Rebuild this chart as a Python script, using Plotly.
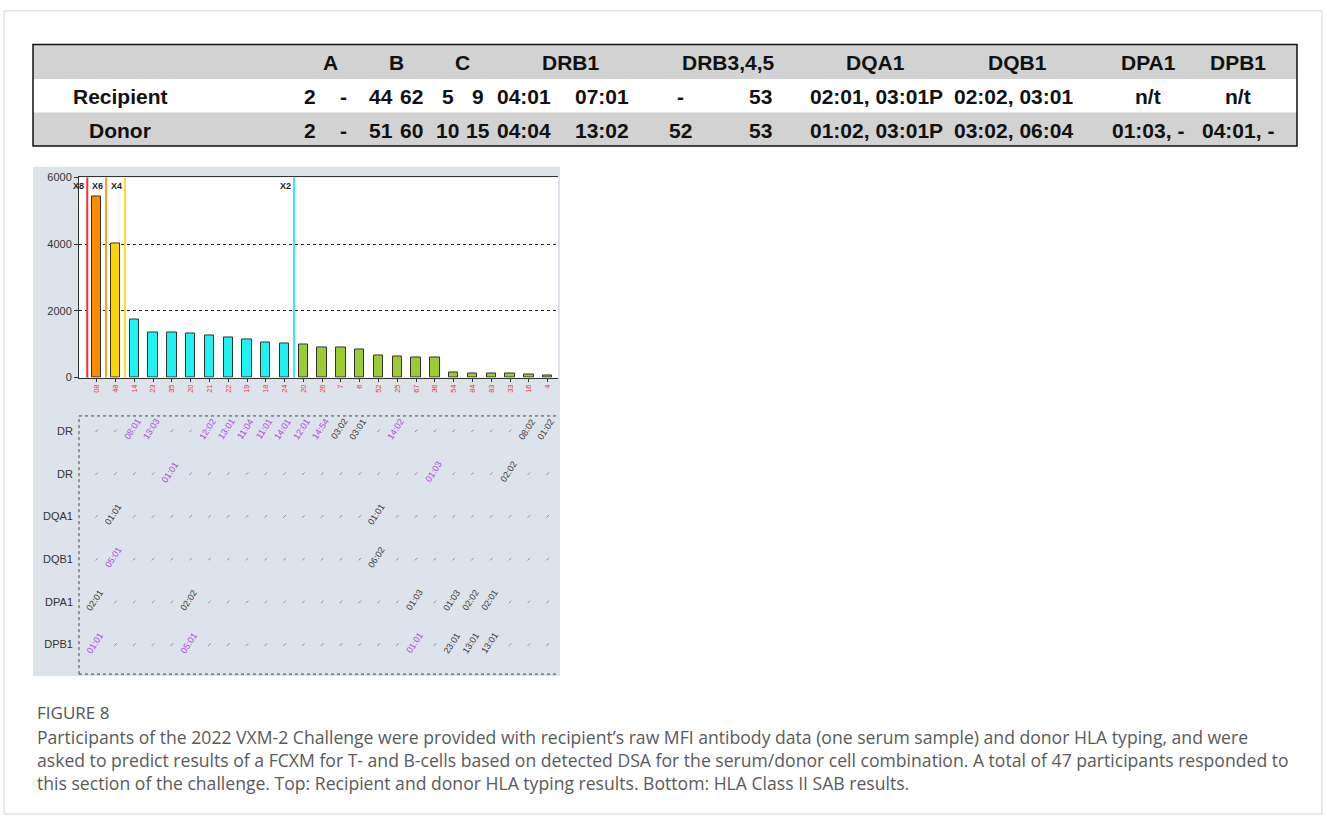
import plotly.graph_objects as go

W, H = 1327, 825
def px(x): return x / W
def py(y): return 1 - y / H

# ---------------- DATA ----------------
table_headers = ["A", "B", "C", "DRB1", "DRB3,4,5", "DQA1", "DQB1", "DPA1", "DPB1"]
row_names = ["Recipient", "Donor"]
recipient_typing = ["2", "-", "44", "62", "5", "9", "04:01", "07:01", "-", "53",
                    "02:01, 03:01P", "02:02, 03:01", "n/t", "n/t"]
donor_typing = ["2", "-", "51", "60", "10", "15", "04:04", "13:02", "52", "53",
                "01:02, 03:01P", "03:02, 06:04", "01:03, -", "04:01, -"]

bead_labels = ["08", "48", "14", "23", "35", "20", "21", "22", "19", "18", "24", "20", "26",
               "7", "6", "52", "25", "67", "36", "54", "84", "83", "33", "16", "4"]
bead_mfi = [5440, 4030, 1730, 1340, 1340, 1310, 1255, 1195, 1145, 1060, 1030,
            1000, 890, 890, 855, 655, 625, 600, 600, 155, 125, 125, 125, 90, 60]
bead_group = ["X6", "X4"] + ["X2"] * 9 + ["neg"] * 14
cutoff_names = ["X8", "X6", "X4", "X2"]
cutoff_after_bead = [-0.5, 0.5, 1.5, 10.5]
mfi_ticks = [0, 2000, 4000, 6000]

grid_rows = ["DR", "DR", "DQA1", "DQB1", "DPA1", "DPB1"]
grid_DR1 = ["", "", "08:01", "13:03", "", "", "12:02", "13:01", "11:04", "11:01", "14:01", "12:01",
            "14:54", "03:02", "03:01", "", "14:02", "", "", "", "", "", "", "08:02", "01:02"]
grid_DR2 = ["", "", "", "", "01:01", "", "", "", "", "", "", "", "", "", "", "", "", "",
            "01:03", "", "", "", "02:02", "", ""]
grid_DQA1 = ["", "01:01", "", "", "", "", "", "", "", "", "", "", "", "", "", "01:01", "",
             "", "", "", "", "", "", "", ""]
grid_DQB1 = ["", "05:01", "", "", "", "", "", "", "", "", "", "", "", "", "", "06:02", "",
             "", "", "", "", "", "", "", ""]
grid_DPA1 = ["02:01", "", "", "", "", "02:02", "", "", "", "", "", "", "", "", "", "", "",
             "01:03", "", "01:03", "02:02", "02:01", "", "", ""]
grid_DPB1 = ["01:01", "", "", "", "", "05:01", "", "", "", "", "", "", "", "", "", "", "",
             "01:01", "", "23:01", "13:01", "13:01", "", "", ""]
# which labels are purple ("p") vs dark ("k")
grid_DR1_kind = ["", "", "p", "p", "", "", "p", "p", "p", "p", "p", "p", "p", "k", "k", "", "p",
                 "", "", "", "", "", "", "k", "k"]
grid_DR2_kind = ["", "", "", "", "p", "", "", "", "", "", "", "", "", "", "", "", "", "",
                 "p", "", "", "", "k", "", ""]
grid_DQA1_kind = ["", "k"] + [""] * 13 + ["k"] + [""] * 9
grid_DQB1_kind = ["", "p"] + [""] * 13 + ["k"] + [""] * 9
grid_DPA1_kind = ["k", "", "", "", "", "k"] + [""] * 11 + ["k", "", "k", "k", "k", "", "", ""]
grid_DPB1_kind = ["p", "", "", "", "", "p"] + [""] * 11 + ["p", "", "k", "k", "k", "", "", ""]

caption_title = "FIGURE 8"
caption_lines = [
    "Participants of the 2022 VXM-2 Challenge were provided with recipient\u2019s raw MFI antibody data (one serum sample) and donor HLA typing, and were",
    "asked to predict results of a FCXM for T- and B-cells based on detected DSA for the serum/donor cell combination. A total of 47 participants responded to",
    "this section of the challenge. Top: Recipient and donor HLA typing results. Bottom: HLA Class II SAB results.",
]

# ---------------- STYLE ----------------
group_color = {"X6": "#ff8c00", "X4": "#ffd500", "X2": "#1ef2f2", "neg": "#9acd32"}
cutoff_color = {"X8": "#ff2a2a", "X6": "#ff9d1a", "X4": "#ffd92e", "X2": "#2ef0f5"}
kind_color = {"p": "#b245e6", "k": "#3a3a3a"}
panel_bg = "#dde3ea"
tbl_gray = "#d2d2d2"
tfont = "Liberation Sans, Arial, sans-serif"
tsize = 21

header_x = [330, 396, 463, 570, 729, 875, 1017, 1148, 1238]
value_x = [310, 343, 381, 411, 448, 478, 524, 602, 680, 760, 876, 1013, 1148, 1238]
row_y = [92, 126]

fig = go.Figure()
idx = list(range(len(bead_mfi)))

fig.add_trace(go.Bar(
    x=idx, y=bead_mfi, width=0.5,
    marker=dict(color=[group_color[g] for g in bead_group], line=dict(color="#333333", width=1)),
    xaxis="x", yaxis="y", showlegend=False, hoverinfo="skip"))

grid_all = [grid_DR1, grid_DR2, grid_DQA1, grid_DQB1, grid_DPA1, grid_DPB1]
grid_kinds = [grid_DR1_kind, grid_DR2_kind, grid_DQA1_kind, grid_DQB1_kind, grid_DPA1_kind, grid_DPB1_kind]
nrows = len(grid_rows)
dot_x, dot_y = [], []
annotations = []
for r, (cells, kinds) in enumerate(zip(grid_all, grid_kinds)):
    yv = nrows - r
    for c, (lab, k) in enumerate(zip(cells, kinds)):
        if lab == "":
            dot_x.append(c); dot_y.append(yv)
        else:
            annotations.append(dict(x=c - 0.1, y=yv + 0.05, xref="x2", yref="y2", text=lab, showarrow=False,
                                    xanchor="center", yanchor="middle", textangle=-57,
                                    font=dict(size=9, color=kind_color[k], family="Arial, Liberation Sans")))

fig.add_trace(go.Scatter(
    x=dot_x, y=dot_y, mode="markers", xaxis="x2", yaxis="y2",
    marker=dict(symbol="line-ne", size=2.5, line=dict(color="#8a8a8a", width=1)),
    showlegend=False, hoverinfo="skip"))

shapes = []
shapes.append(dict(type="rect", xref="paper", yref="paper", x0=px(4), x1=px(1322), y0=py(820), y1=py(5),
                   line=dict(color="#d6d6d6", width=1), layer="below"))
shapes.append(dict(type="rect", xref="paper", yref="paper", x0=px(33), x1=px(1297), y0=py(74), y1=py(39),
                   fillcolor=tbl_gray, line=dict(width=0), layer="below"))
shapes.append(dict(type="rect", xref="paper", yref="paper", x0=px(33), x1=px(1297), y0=py(142), y1=py(108),
                   fillcolor=tbl_gray, line=dict(width=0), layer="below"))
shapes.append(dict(type="rect", xref="paper", yref="paper", x0=px(33), x1=px(1297), y0=py(142), y1=py(39),
                   line=dict(color="#111111", width=1.5)))
shapes.append(dict(type="rect", xref="paper", yref="paper", x0=px(33), x1=px(560), y0=py(680), y1=py(163),
                   fillcolor=panel_bg, line=dict(width=0), layer="below"))
shapes.append(dict(type="rect", xref="x domain", yref="y domain", x0=0, x1=1, y0=0, y1=1,
                   fillcolor="white", line=dict(width=0), layer="below"))
for (x0, y0, x1, y1) in [(0, 1, 1, 1), (0, 0, 0, 1), (0, 0, 1, 0)]:
    shapes.append(dict(type="line", xref="x2 domain", yref="y2 domain", x0=x0, y0=y0, x1=x1, y1=y1,
                       line=dict(color="#444444", width=1, dash="dot")))
for name, pos in zip(cutoff_names, cutoff_after_bead):
    shapes.append(dict(type="line", xref="x", yref="y domain", x0=pos, x1=pos, y0=0, y1=1,
                       line=dict(color=cutoff_color[name], width=2)))
    annotations.append(dict(x=pos, y=0.955, xref="x", yref="y domain", text="<b>" + name + "</b>",
                            showarrow=False, xanchor="right", yanchor="middle", xshift=-1,
                            font=dict(size=9, color="#222222", family="Arial, Liberation Sans")))

def tbl_text(txt, xx, yy):
    annotations.append(dict(x=px(xx), y=py(yy), xref="paper", yref="paper", text="<b>" + txt + "</b>",
                            showarrow=False, xanchor="center", yanchor="middle",
                            font=dict(size=tsize, color="#111111", family=tfont)))

for h, xx in zip(table_headers, header_x):
    tbl_text(h, xx, 57)
for name, yy in zip(row_names, row_y):
    tbl_text(name, 120, yy)
for vals, yy in zip([recipient_typing, donor_typing], row_y):
    for v, xx in zip(vals, value_x):
        tbl_text(v, xx, yy)

annotations.append(dict(x=px(35), y=py(717), xref="paper", yref="paper", text=caption_title, showarrow=False,
                        xanchor="left", yanchor="middle",
                        font=dict(size=17, color="#555555", family="Open Sans, sans-serif")))
for i, line in enumerate(caption_lines):
    annotations.append(dict(x=px(35), y=py(742 + 23 * i), xref="paper", yref="paper", text=line, showarrow=False,
                            xanchor="left", yanchor="middle",
                            font=dict(size=17.6, color="#5a5a5a", family="Open Sans, sans-serif")))

xr = [-0.94, 24.55]
fig.update_layout(
    width=W, height=H, autosize=False,
    margin=dict(l=0, r=0, t=0, b=0, pad=0),
    paper_bgcolor="white", plot_bgcolor="rgba(0,0,0,0)",
    shapes=shapes, annotations=annotations, bargap=0,
    xaxis=dict(domain=[px(79), px(558)], range=xr, anchor="y", tickvals=idx, ticktext=bead_labels,
               tickangle=-90, tickfont=dict(size=7.5, color="#ff3030", family="Arial"),
               ticks="outside", ticklen=3, tickcolor="#333333",
               showline=True, linecolor="#333333", linewidth=1, mirror=True, showgrid=False, zeroline=False),
    yaxis=dict(domain=[py(377), py(174)], range=[0, 6000], anchor="x", tickvals=mfi_ticks,
               tickfont=dict(size=11, color="#333333", family="Arial, Liberation Sans"),
               ticks="outside", ticklen=4, tickcolor="#333333",
               showline=True, linecolor="#333333", linewidth=1,
               showgrid=True, gridcolor="#222222", griddash="dot", gridwidth=1, zeroline=False),
    xaxis2=dict(domain=[px(79), px(558)], range=xr, anchor="y2", visible=False),
    yaxis2=dict(domain=[py(678), py(416)], range=[0.31, 6.35], anchor="x2",
                tickvals=[nrows - r for r in range(nrows)], ticktext=grid_rows,
                tickfont=dict(size=11, color="#333333", family="Arial, Liberation Sans"),
                showgrid=False, zeroline=False, showline=False, ticks="", ticklabelstandoff=5),
)

fig.write_html("out.html", config={"displayModeBar": False},
               post_script="document.body.style.margin='0';")
